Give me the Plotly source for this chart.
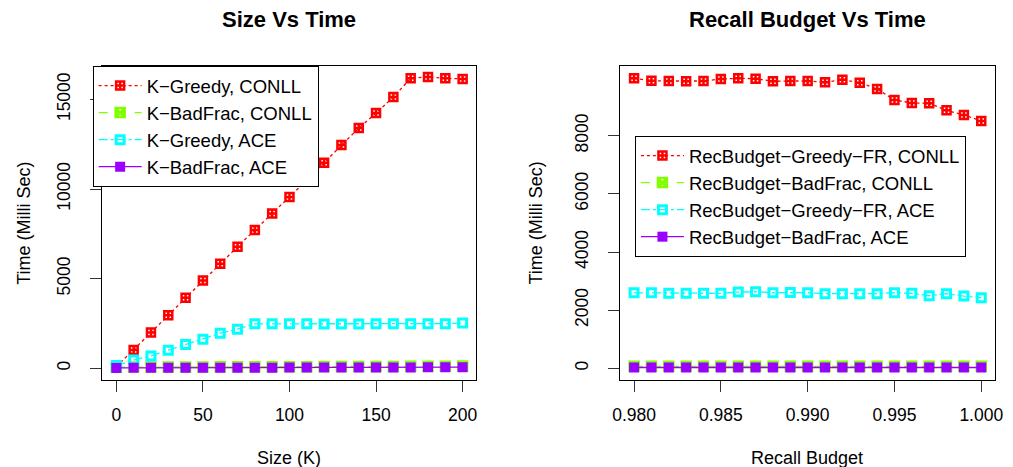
import plotly.graph_objects as go

# ---------------- data ----------------
size_k = [0, 10, 20, 30, 40, 50, 60, 70, 80, 90, 100, 110, 120, 130, 140, 150, 160, 170, 180, 190, 200]
k_greedy_conll = [90, 1020, 1990, 2960, 3930, 4900, 5830, 6780, 7710, 8630, 9560, 10490, 11470, 12450,
                  13400, 14240, 15130, 16180, 16250, 16180, 16140]
k_badfrac_conll = [60, 70, 70, 70, 75, 75, 80, 80, 85, 85, 90, 90, 95, 95, 100, 100, 105, 110, 110, 115, 120]
k_greedy_ace = [150, 460, 690, 1010, 1320, 1620, 1960, 2180, 2480, 2480, 2480, 2480, 2470, 2470, 2470,
                2480, 2480, 2480, 2480, 2490, 2520]
k_badfrac_ace = [20, 25, 25, 25, 30, 30, 30, 35, 35, 35, 40, 40, 40, 45, 45, 45, 50, 50, 55, 55, 60]

recall_budget = [0.980, 0.981, 0.982, 0.983, 0.984, 0.985, 0.986, 0.987, 0.988, 0.989, 0.990,
                 0.991, 0.992, 0.993, 0.994, 0.995, 0.996, 0.997, 0.998, 0.999, 1.000]
rb_greedy_conll = [9973, 9893, 9881, 9870, 9881, 9950, 9973, 9962, 9870, 9881, 9881, 9836, 9927, 9824,
                   9606, 9228, 9125, 9113, 8873, 8712, 8506]
rb_badfrac_conll = [70, 70, 70, 70, 70, 70, 70, 70, 70, 70, 70, 70, 70, 70, 70, 70, 70, 70, 70, 70, 70]
rb_greedy_ace = [2601, 2601, 2579, 2579, 2579, 2579, 2624, 2636, 2601, 2613, 2601, 2567, 2567, 2567,
                 2567, 2601, 2579, 2498, 2567, 2487, 2429]
rb_badfrac_ace = [30, 30, 30, 30, 30, 30, 30, 30, 30, 30, 30, 30, 30, 30, 30, 30, 30, 30, 30, 30, 30]

left_names = ["K\u2212Greedy, CONLL", "K\u2212BadFrac, CONLL", "K\u2212Greedy, ACE", "K\u2212BadFrac, ACE"]
right_names = ["RecBudget\u2212Greedy\u2212FR, CONLL", "RecBudget\u2212BadFrac, CONLL",
               "RecBudget\u2212Greedy\u2212FR, ACE", "RecBudget\u2212BadFrac, ACE"]

left_xticks = [0, 50, 100, 150, 200]
left_xticklabels = ["0", "50", "100", "150", "200"]
left_yticks = [0, 5000, 10000, 15000]
left_yticklabels = ["0", "5000", "10000", "15000"]
right_xticks = [0.980, 0.985, 0.990, 0.995, 1.000]
right_xticklabels = ["0.980", "0.985", "0.990", "0.995", "1.000"]
right_yticks = [0, 2000, 4000, 6000, 8000]
right_yticklabels = ["0", "2000", "4000", "6000", "8000"]

# ---------------- styles ----------------
FONT = "Liberation Sans, Arial, sans-serif"
W, H = 1013, 467
styles = [
    dict(color="#FF0000", symbol="square-cross-open", size=8, lw=2.5, dash="dot"),
    dict(color="#7FFF00", symbol="square-x-open", size=9, lw=2.5, dash="dash"),
    dict(color="#00FFFF", symbol="square-open", size=8, lw=3, dash="dashdot"),
    dict(color="#9A00FF", symbol="square", size=10, lw=0, dash="solid"),
]

fig = go.Figure()

def add(x, y, name, st, xa, ya, leg):
    fig.add_trace(go.Scatter(
        x=x, y=y, name=name, mode="lines+markers", xaxis=xa, yaxis=ya, legend=leg,
        line=dict(color=st["color"], width=1.3, dash=st["dash"]),
        marker=dict(symbol=st["symbol"], size=st["size"], color=st["color"],
                    line=dict(color=st["color"], width=st["lw"])),
    ))

for series, name, st in zip([k_greedy_conll, k_badfrac_conll, k_greedy_ace, k_badfrac_ace], left_names, styles):
    add(size_k, series, name, st, "x", "y", "legend")
for series, name, st in zip([rb_greedy_conll, rb_badfrac_conll, rb_greedy_ace, rb_badfrac_ace], right_names, styles):
    add(recall_budget, series, name, st, "x2", "y2", "legend2")

ydom = [87 / H, 401 / H]
axis_common = dict(showgrid=False, zeroline=False, showline=True, mirror=True, linecolor="black",
                   linewidth=1, ticks="outside", ticklen=11, tickcolor="#333333", tickwidth=1,
                   tickfont=dict(family=FONT, size=17.5, color="black"))

legend_common = dict(xanchor="left", yanchor="top", bgcolor="white", bordercolor="black", borderwidth=1,
                     font=dict(family=FONT, size=18.5, color="black"), tracegroupgap=0,
                     itemclick=False, itemwidth=43)

fig.update_layout(
    width=W, height=H, margin=dict(l=0, r=0, t=0, b=0),
    paper_bgcolor="white", plot_bgcolor="white",
    font=dict(family=FONT, color="black"),
    xaxis=dict(domain=[96 / W, 476 / W], range=[-8, 208], anchor="y",
               tickvals=left_xticks, ticktext=left_xticklabels, ticklabelstandoff=8, **axis_common),
    yaxis=dict(domain=ydom, range=[-654, 16862], anchor="x",
               tickvals=left_yticks, ticktext=left_yticklabels, tickangle=-90, ticklabelstandoff=13,
               **axis_common),
    xaxis2=dict(domain=[622 / W, 1003 / W], range=[0.9792, 1.0008], anchor="y2",
                tickvals=right_xticks, ticktext=right_xticklabels, ticklabelstandoff=8, **axis_common),
    yaxis2=dict(domain=ydom, range=[-400, 10397], anchor="x2",
                tickvals=right_yticks, ticktext=right_yticklabels, tickangle=-90, ticklabelstandoff=13,
                **axis_common),
    legend=dict(x=86 / W, y=1 - 66 / H, **legend_common),
    legend2=dict(x=637 / W, y=1 - 136 / H, **legend_common),
)

ann_font = dict(family=FONT, size=18, color="black")
title_font = dict(family=FONT, size=22, color="black")
annotations = [
    dict(text="<b>Size Vs Time</b>", x=286 / W, y=1 - 20 / H, font=title_font),
    dict(text="<b>Recall Budget Vs Time</b>", x=812 / W, y=1 - 20 / H, font=title_font),
    dict(text="Size (K)", x=286 / W, y=1 - 458 / H, font=ann_font),
    dict(text="Recall Budget", x=812 / W, y=1 - 458 / H, font=ann_font),
    dict(text="Time (Milli Sec)", x=16 / W, y=1 - 223 / H, textangle=-90, font=ann_font),
    dict(text="Time (Milli Sec)", x=536 / W, y=1 - 223 / H, textangle=-90, font=ann_font),
]
for a in annotations:
    fig.add_annotation(xref="paper", yref="paper", showarrow=False, xanchor="center", yanchor="middle", **a)

fig.write_html("out.html")
